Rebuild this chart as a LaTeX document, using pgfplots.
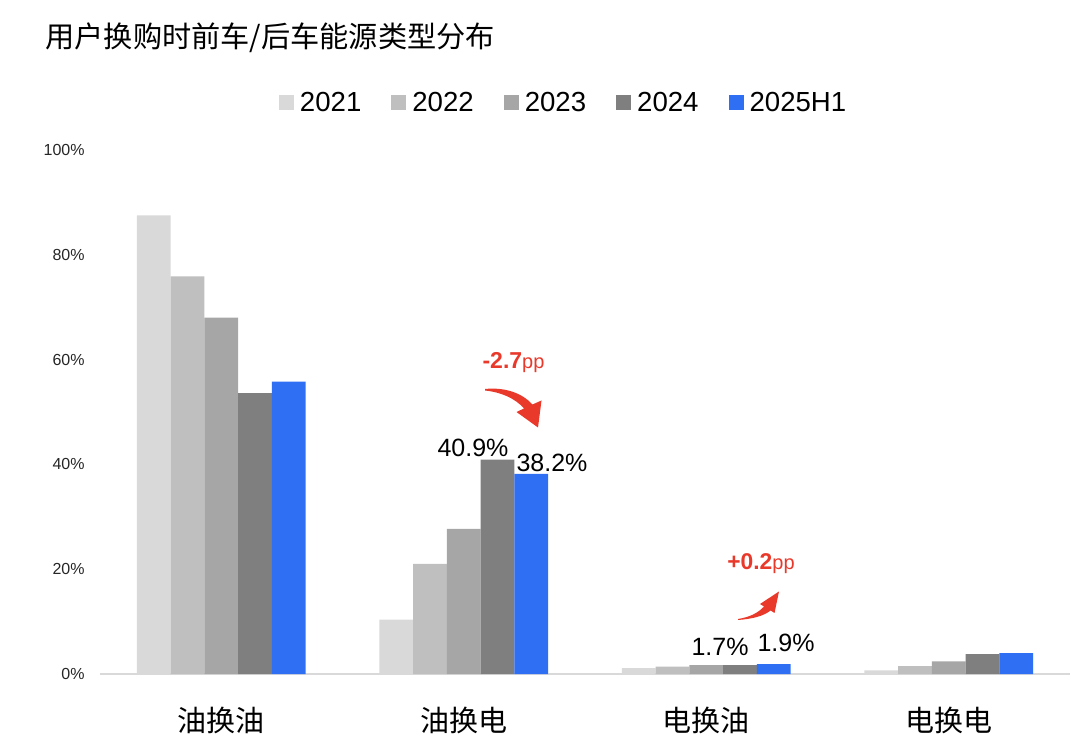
\documentclass[border=0pt]{standalone}
\usepackage{fontspec}
\setmainfont{Liberation Sans}
\newfontfamily\cjk{Noto Sans CJK SC}
\usepackage{pgfplots}
\pgfplotsset{compat=1.18}
\definecolor{c21}{HTML}{D9D9D9}
\definecolor{c22}{HTML}{BFBFBF}
\definecolor{c23}{HTML}{A6A6A6}
\definecolor{c24}{HTML}{7F7F7F}
\definecolor{c25}{HTML}{2F6FF3}
\definecolor{ared}{HTML}{E8392B}
\definecolor{baseln}{HTML}{D9D9D9}
\begin{document}
\begin{tikzpicture}
\useasboundingbox (-50pt,-40pt) rectangle (490pt,337pt);
\begin{axis}[
  at={(0,0)}, anchor=south west,
  scale only axis, width=485pt, height=262pt,
  xmin=-0.5, xmax=3.5, ymin=0, ymax=100,
  ybar=0pt, bar width=0.139,
  axis x line*=bottom, axis y line*=left,
  x axis line style={draw=baseln, line width=0.8pt, -},
  y axis line style={draw=none},
  major tick length=0pt,
  xtick={0,1,2,3},
  xticklabels={油换油,油换电,电换油,电换电},
  xticklabel style={font=\cjk\fontsize{14.5}{17}\selectfont, anchor=center, yshift=-23pt},
  ytick={0,20,40,60,80,100},
  yticklabel={\pgfmathprintnumber{\tick}\%},
  yticklabel style={font=\fontsize{8}{10}\selectfont, anchor=east, inner sep=0pt, xshift=-7.5pt, text=black!85},
  /pgf/number format/assume math mode=true,
  legend columns=5,
  legend style={at={(0.479,1.0897)}, anchor=center, draw=none, fill=none,
    font=\fontsize{13.8}{16}\selectfont,
    /tikz/every odd column/.append style={column sep=1pt},
    /tikz/every even column/.append style={column sep=13pt}},
  legend image code/.code={\fill[#1] (0pt,-3.75pt) rectangle (7.5pt,3.75pt);},
]
\addplot[fill=c21, draw=none] coordinates {(0,87.5) (1,10.4) (2,1.1) (3,0.7)};
\addplot[fill=c22, draw=none] coordinates {(0,75.9) (1,21.0) (2,1.4) (3,1.5)};
\addplot[fill=c23, draw=none] coordinates {(0,68.0) (1,27.7) (2,1.7) (3,2.4)};
\addplot[fill=c24, draw=none] coordinates {(0,53.6) (1,40.9) (2,1.7) (3,3.8)};
\addplot[fill=c25, draw=none] coordinates {(0,55.8) (1,38.2) (2,1.9) (3,4.0)};
\legend{2021,2022,2023,2024,2025H1}
\end{axis}
\begin{scope}[x=0.5pt,y=-0.5pt,shift={(-50pt,337pt)}]
\node[anchor=west, font=\cjk\fontsize{14.6}{17}\selectfont, inner sep=0pt] at (45,38) {用户换购时前车/后车能源类型分布};
\node[font=\fontsize{12.5}{15}\selectfont, inner sep=0pt] at (473,448) {40.9\%};
\node[font=\fontsize{12.5}{15}\selectfont, inner sep=0pt] at (552,463) {38.2\%};
\node[font=\fontsize{12.5}{15}\selectfont, inner sep=0pt] at (720,647) {1.7\%};
\node[font=\fontsize{12.5}{15}\selectfont, inner sep=0pt] at (786,643) {1.9\%};
\node[text=ared, inner sep=0pt, anchor=base] at (513.5,368.3) {\fontsize{11.5}{13}\selectfont\bfseries -2.7\fontsize{10}{12}\selectfont\mdseries pp};
\node[text=ared, inner sep=0pt, anchor=base] at (761,570) {\fontsize{11.4}{13}\selectfont\bfseries +0.2\fontsize{10}{12}\selectfont\mdseries pp};
\fill[ared] (485,389) .. controls (505,387) and (522,393) .. (532.5,404.5) -- (541.5,400.5) -- (538,427.5) -- (516.5,412) -- (524,408.5) .. controls (515,398) and (500,392) .. (485,390.5) -- cycle;
\fill[ared] (738,620) .. controls (752,619) and (764,616) .. (770.5,610.5) -- (774.5,613) -- (779,591.5) -- (760,604) -- (764,606.5) .. controls (758,613) and (750,617) .. (738,619) -- cycle;
\end{scope}
\end{tikzpicture}
\end{document}
